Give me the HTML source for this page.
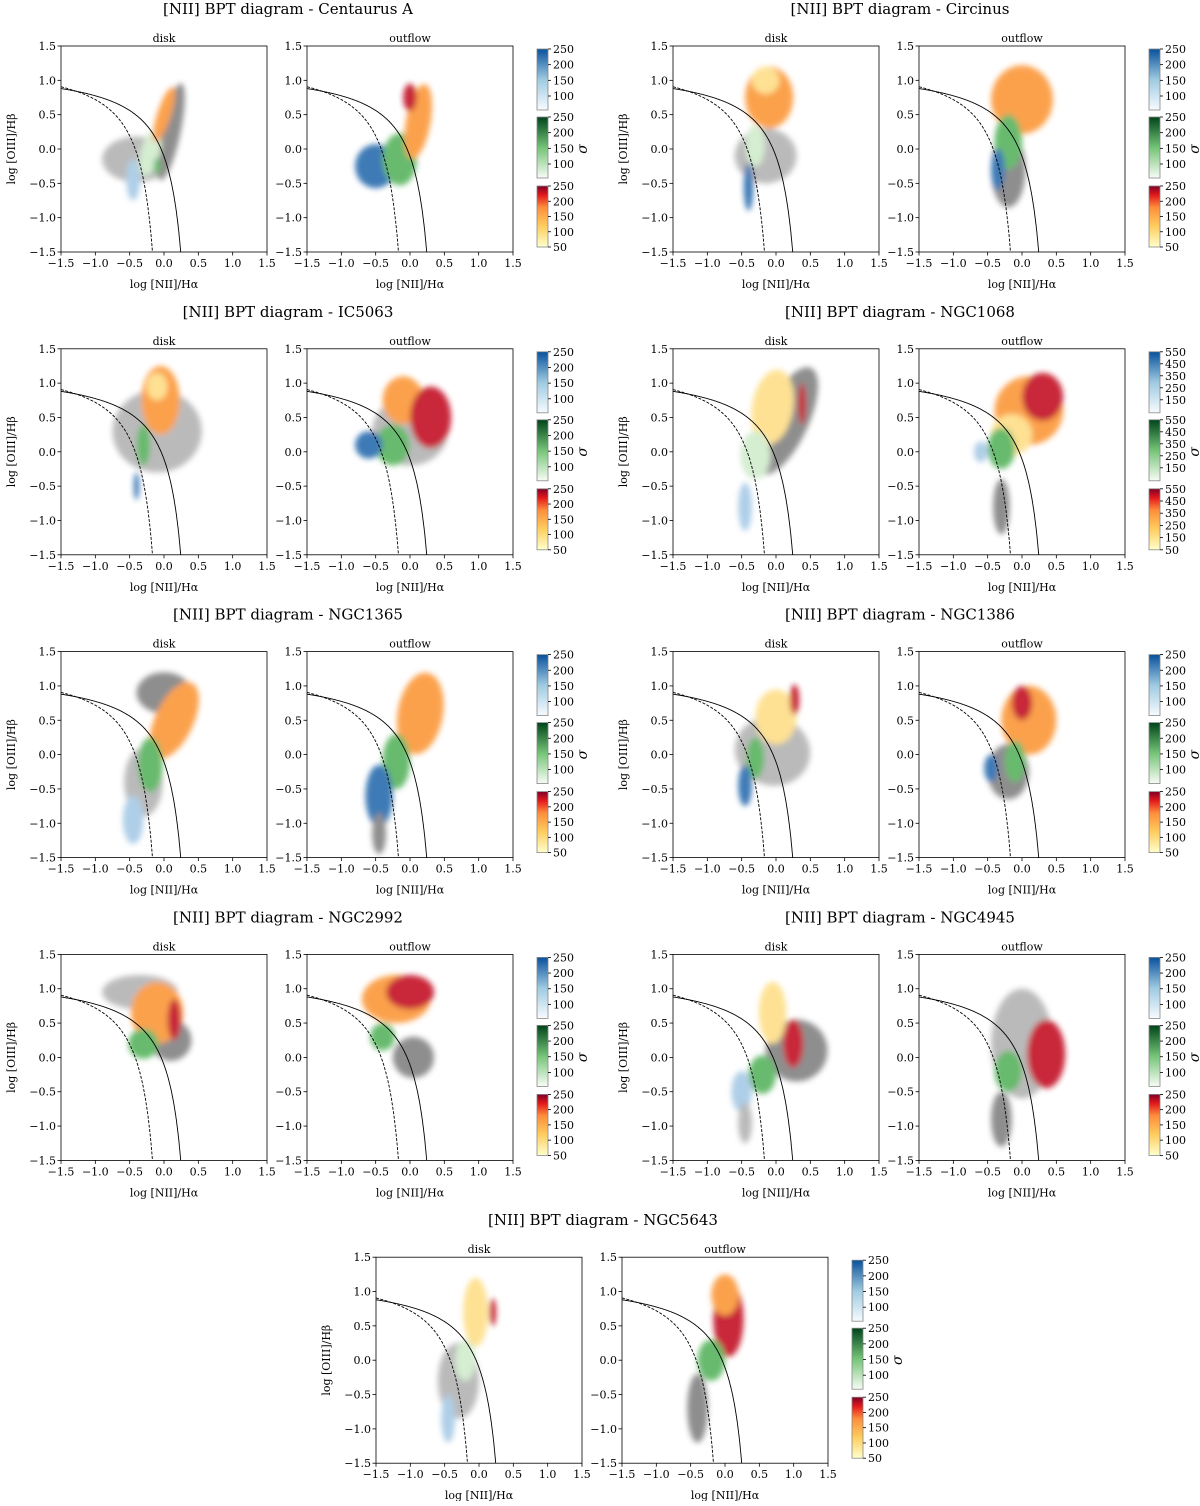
<!DOCTYPE html>
<html><head><meta charset="utf-8"><style>
html,body{margin:0;padding:0;background:#fff;}
svg text{font-family:"DejaVu Serif","Liberation Serif",serif;fill:#000;}
</style></head><body>
<svg id="fig" xmlns="http://www.w3.org/2000/svg" width="1200" height="1501" viewBox="0 0 1200 1501">
<defs>
<filter id="soft" x="-20%" y="-20%" width="140%" height="140%"><feGaussianBlur stdDeviation="3"/></filter>
<linearGradient id="gBlue" x1="0" y1="1" x2="0" y2="0"><stop offset="0" stop-color="#f7fbff"/><stop offset="0.5" stop-color="#9ecae1"/><stop offset="1" stop-color="#08519c"/></linearGradient>
<linearGradient id="gGreen" x1="0" y1="1" x2="0" y2="0"><stop offset="0" stop-color="#f7fcf5"/><stop offset="0.5" stop-color="#74c476"/><stop offset="1" stop-color="#00441b"/></linearGradient>
<linearGradient id="gRed" x1="0" y1="1" x2="0" y2="0"><stop offset="0" stop-color="#ffffcc"/><stop offset="0.35" stop-color="#fecc5c"/><stop offset="0.65" stop-color="#fd8d3c"/><stop offset="0.85" stop-color="#e31a1c"/><stop offset="1" stop-color="#800026"/></linearGradient>
</defs>
</svg>
<script>
// Galaxy groups (titles and colorbar tick labels)
const galaxies = ["Centaurus A","Circinus","IC5063","NGC1068","NGC1365","NGC1386","NGC2992","NGC4945","NGC5643"];
const cbTicksStd = ["250","200","150","100"];
const cbTicksRedStd = ["250","200","150","100","50"];
const cbTicks1068 = ["550","450","350","250","150"];
const cbTicksRed1068 = ["550","450","350","250","150","50"];
const xTicks = [-1.5,-1.0,-0.5,0.0,0.5,1.0,1.5];
const yTicks = [-1.5,-1.0,-0.5,0.0,0.5,1.0,1.5];
// Clouds: [x, y, rx, ry, rotationDeg, colourKey] in data units
const diskClouds = [
 [[-0.4,-0.15,0.5,0.33,0,"gl"],[0.1,0.25,0.14,0.72,12,"g"],[-0.45,-0.45,0.1,0.3,0,"bl"],[-0.2,-0.05,0.14,0.35,15,"grl"],[-0.1,-0.25,0.05,0.12,0,"gr"],[0.0,0.5,0.1,0.42,18,"o"]],
 [[-0.15,-0.1,0.45,0.4,0,"gl"],[-0.1,0.75,0.35,0.45,0,"o"],[-0.15,1.0,0.2,0.2,0,"y"],[-0.3,0.05,0.14,0.3,0,"grl"],[-0.4,-0.55,0.07,0.35,0,"b"]],
 [[-0.1,0.3,0.65,0.6,0,"gl"],[-0.05,0.75,0.28,0.5,0,"o"],[-0.1,0.95,0.15,0.2,0,"y"],[-0.3,0.1,0.1,0.3,0,"gr"],[-0.4,-0.5,0.04,0.2,0,"b"]],
 [[0.15,0.45,0.32,0.85,25,"g"],[-0.05,0.65,0.3,0.55,10,"y"],[0.38,0.7,0.06,0.3,0,"r"],[-0.3,-0.05,0.22,0.35,0,"grl"],[-0.45,-0.8,0.1,0.35,0,"bl"]],
 [[0.0,0.9,0.4,0.3,0,"g"],[0.15,0.5,0.28,0.6,25,"o"],[-0.3,-0.4,0.28,0.5,0,"gl"],[-0.2,-0.15,0.18,0.4,0,"gr"],[-0.45,-0.95,0.15,0.35,0,"bl"]],
 [[-0.05,0.05,0.55,0.5,15,"gl"],[0.0,0.55,0.3,0.4,0,"y"],[0.27,0.8,0.07,0.22,0,"r"],[-0.3,-0.05,0.13,0.3,0,"gr"],[-0.45,-0.45,0.1,0.3,0,"b"]],
 [[-0.35,0.95,0.55,0.25,0,"gl"],[0.1,0.25,0.3,0.3,0,"g"],[-0.1,0.65,0.38,0.45,0,"o"],[0.15,0.55,0.1,0.3,0,"r"],[-0.3,0.2,0.22,0.22,0,"gr"]],
 [[0.3,0.1,0.45,0.45,0,"g"],[-0.05,0.65,0.2,0.45,0,"y"],[0.25,0.2,0.15,0.35,0,"r"],[-0.2,-0.25,0.2,0.28,0,"gr"],[-0.5,-0.5,0.15,0.3,0,"bl"],[-0.45,-0.95,0.1,0.3,0,"gl"]],
 [[-0.3,-0.3,0.3,0.55,0,"gl"],[-0.05,0.7,0.18,0.5,0,"y"],[0.2,0.7,0.05,0.2,0,"r"],[-0.2,0.0,0.15,0.3,0,"grl"],[-0.45,-0.85,0.1,0.35,0,"bl"]]
];
const outClouds = [
 [[-0.5,-0.25,0.3,0.32,0,"b"],[-0.15,-0.15,0.25,0.38,0,"gr"],[0.12,0.4,0.18,0.55,10,"o"],[0.0,0.75,0.1,0.2,0,"r"]],
 [[-0.2,-0.3,0.25,0.55,0,"g"],[0.0,0.72,0.45,0.5,0,"o"],[-0.2,0.1,0.2,0.4,0,"gr"],[-0.35,-0.3,0.1,0.3,0,"b"]],
 [[0.0,0.3,0.55,0.5,0,"gl"],[-0.1,0.75,0.3,0.35,0,"o"],[0.3,0.5,0.3,0.45,0,"r"],[-0.25,0.1,0.25,0.3,0,"gr"],[-0.6,0.1,0.2,0.2,0,"b"]],
 [[0.1,0.6,0.5,0.5,0,"o"],[0.3,0.8,0.3,0.35,0,"r"],[-0.15,0.25,0.3,0.3,0,"y"],[-0.3,0.05,0.2,0.3,0,"gr"],[-0.3,-0.8,0.12,0.4,0,"g"],[-0.6,0.0,0.1,0.15,0,"bl"]],
 [[0.15,0.6,0.33,0.6,10,"o"],[-0.2,-0.1,0.2,0.4,0,"gr"],[-0.45,-0.6,0.2,0.45,0,"b"],[-0.45,-1.15,0.1,0.3,0,"g"]],
 [[0.1,0.5,0.4,0.5,0,"o"],[0.0,0.75,0.15,0.25,0,"r"],[-0.2,-0.25,0.3,0.4,0,"g"],[-0.1,-0.1,0.15,0.3,0,"gr"],[-0.45,-0.2,0.1,0.2,0,"b"]],
 [[-0.2,0.85,0.5,0.35,0,"o"],[0.0,0.95,0.35,0.25,0,"r"],[0.05,0.0,0.3,0.3,0,"g"],[-0.4,0.3,0.18,0.2,0,"gr"]],
 [[0.0,0.2,0.45,0.8,0,"gl"],[0.35,0.05,0.28,0.5,0,"r"],[-0.2,-0.2,0.2,0.3,0,"gr"],[-0.3,-0.9,0.15,0.4,0,"g"]],
 [[0.05,0.6,0.22,0.55,0,"r"],[0.0,0.95,0.2,0.3,0,"o"],[-0.2,0.0,0.2,0.3,0,"gr"],[-0.4,-0.7,0.15,0.5,0,"g"]]
];
const colours = {g:"#858585",gl:"#b5b5b5",b:"#2f6fb0",bl:"#a8cbe6",gr:"#5cb562",grl:"#d2ecce",o:"#fb9a3c",y:"#fedf8a",r:"#c4162a"};

const NS="http://www.w3.org/2000/svg";
const svg=document.getElementById('fig');
const W=206,H=206;
function mk(tag,attrs,parent){const e=document.createElementNS(NS,tag);for(const k in attrs)e.setAttribute(k,attrs[k]);(parent||svg).appendChild(e);return e;}
function fmt(v){return (v<0?"\u2212":"")+Math.abs(v).toFixed(1);}
let clipId=0;
function axes(left,top,sub,clouds,showY){
  const sx=v=>left+(v+1.5)/3*W, sy=v=>top+(1.5-v)/3*H;
  const g=mk('g',{});
  
  
  const cid='c'+(clipId++);
  const cp=mk('clipPath',{id:cid},g);mk('rect',{x:left,y:top,width:W,height:H},cp);
  const cg=mk('g',{'clip-path':'url(#'+cid+')'},g);
  const fg=mk('g',{filter:'url(#soft)',opacity:'0.92'},cg);
  clouds.forEach(c=>{
    const e=mk('ellipse',{cx:sx(c[0]),cy:sy(c[1]),rx:c[2]/3*W,ry:c[3]/3*H,fill:colours[c[5]],transform:'rotate('+c[4]+' '+sx(c[0])+' '+sy(c[1])+')'},fg);
    
    
  });
  let d1="",d2="";
  for(let x=-1.5;x<0.05;x+=0.005){const y=0.61/(x-0.05)+1.3;if(y<-1.6)break;d1+=(d1?"L":"M")+sx(x).toFixed(1)+","+sy(y).toFixed(1);}
  for(let x=-1.5;x<0.47;x+=0.005){const y=0.61/(x-0.47)+1.19;if(y<-1.6)break;d2+=(d2?"L":"M")+sx(x).toFixed(1)+","+sy(y).toFixed(1);}
  const k1=mk('path',{d:d1,fill:'none',stroke:'#000','stroke-width':0.9,'stroke-dasharray':'3,1.5'},cg);
  
  const k2=mk('path',{d:d2,fill:'none',stroke:'#000','stroke-width':0.9},cg);
  
  mk('rect',{x:left,y:top,width:W,height:H,fill:'none',stroke:'#000','stroke-width':0.8},g);
  xTicks.forEach(v=>{mk('line',{x1:sx(v),x2:sx(v),y1:top+H,y2:top+H+3.5,stroke:'#000','stroke-width':0.8},g);
    const t=mk('text',{x:sx(v),y:top+H+15,'text-anchor':'middle','font-size':11},g);t.textContent=fmt(v);});
  yTicks.forEach(v=>{mk('line',{x1:left-3.5,x2:left,y1:sy(v),y2:sy(v),stroke:'#000','stroke-width':0.8},g);
    const t=mk('text',{x:left-5,y:sy(v)+4,'text-anchor':'end','font-size':11},g);t.textContent=fmt(v);});
  const st=mk('text',{x:left+W/2,y:top-4,'text-anchor':'middle','font-size':11},g);st.textContent=sub;
  
  const xl=mk('text',{x:left+W/2,y:top+H+36,'text-anchor':'middle','font-size':11},g);xl.textContent="log [NII]/H\u03b1";
  
  if(showY){const yl=mk('text',{x:0,y:0,'text-anchor':'middle','font-size':11,transform:'translate('+(left-46)+','+(top+H/2)+') rotate(-90)'},g);yl.textContent="log [OIII]/H\u03b2";
    }
}
function colorbar(x,top,ticksBG,ticksR){
  const segs=[["url(#gBlue)",top+3,ticksBG],["url(#gGreen)",top+71,ticksBG],["url(#gRed)",top+140,ticksR]];
  segs.forEach((s,i)=>{
    const r=mk('rect',{x:x,y:s[1],width:11,height:61,fill:s[0],stroke:'#888','stroke-width':0.8});
    
    
    const n=s[2].length, span=(i<2)?(n===4?47:48):61;
    s[2].forEach((lab,j)=>{const yy=s[1]+j*span/(n-1);
      mk('line',{x1:x+11,x2:x+14,y1:yy,y2:yy,stroke:'#000','stroke-width':0.8});
      const t=mk('text',{x:x+16,y:yy+4,'font-size':11});t.textContent=lab;});
  });
  const sg=mk('text',{x:0,y:0,'text-anchor':'middle','font-size':14,'font-style':'italic',transform:'translate('+(x+50)+','+(top+103)+') rotate(-90)'});
  sg.textContent="\u03c3";
}
const lefts=[61,673];
galaxies.forEach((name,i)=>{
  const row=Math.floor(i/2);
  const left=(i===8)?376:lefts[i%2];
  const top=46+row*302.8;
  const t=mk('text',{x:left+227,y:top-32,'text-anchor':'middle','font-size':15});
  t.textContent="[NII] BPT diagram - "+name;
  
  axes(left,top,'disk',diskClouds[i],true);
  axes(left+246,top,'outflow',outClouds[i],false);
  const is1068=name==="NGC1068";
  colorbar(left+476,top,is1068?cbTicks1068:cbTicksStd,is1068?cbTicksRed1068:cbTicksRedStd);
});
</script>
</body></html>
